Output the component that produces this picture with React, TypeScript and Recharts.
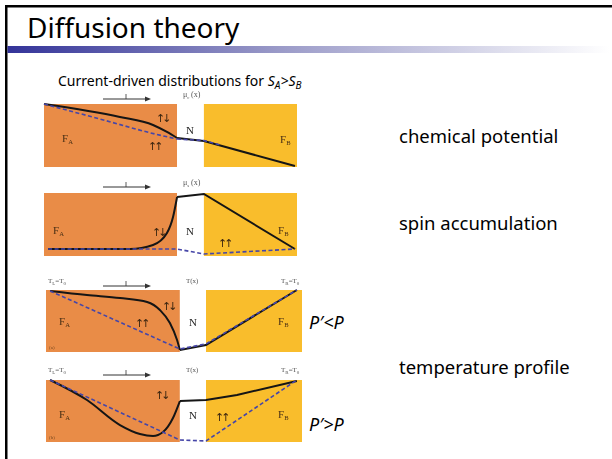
import React from 'react';
import { LineChart, Line, XAxis, YAxis, ReferenceArea } from 'recharts';

type Pt = { x: number; y: number };

// x runs 0..100 across each strip (F_A | N | F_B), y runs 0..100 bottom to top
const BOUNDS_MU = [0, 52.6, 63.2, 100];
const BOUNDS_T = [0, 52.3, 62.5, 100];

// chemical potential
const chemSolidA: Pt[] = [
  { x: 0, y: 100 }, { x: 30, y: 79.4 }, { x: 43.1, y: 66.7 }, { x: 48.6, y: 55.6 }, { x: 52.6, y: 46 },
];
const chemSolidRest: Pt[] = [{ x: 52.6, y: 46 }, { x: 63.2, y: 41.3 }, { x: 99.2, y: 1.6 }];
const chemDashedA: Pt[] = [{ x: 0, y: 100 }, { x: 22.1, y: 76.2 }, { x: 43.9, y: 52.4 }, { x: 52.6, y: 44.4 }];
const chemDashedRest: Pt[] = [{ x: 52.6, y: 44.4 }, { x: 63.2, y: 42 }, { x: 70, y: 34.6 }];

// spin accumulation
const spinSolidA: Pt[] = [
  { x: 1.6, y: 11.1 }, { x: 34, y: 11.1 }, { x: 43.1, y: 17.5 }, { x: 48.6, y: 36.5 }, { x: 51, y: 61.9 }, { x: 52.6, y: 93.7 },
];
const spinSolidRest: Pt[] = [{ x: 52.6, y: 93.7 }, { x: 63.2, y: 98.4 }, { x: 99.2, y: 11.1 }];
const spinDashed: Pt[] = [{ x: 1.6, y: 11.1 }, { x: 52.6, y: 11.1 }, { x: 63.2, y: 3.2 }, { x: 99.2, y: 11.1 }];

// temperature, P' < P
const tempLoSolidA: Pt[] = [
  { x: 1.6, y: 98.4 }, { x: 16, y: 91.9 }, { x: 28.9, y: 87.1 }, { x: 39.5, y: 80.6 }, { x: 44.5, y: 67.7 },
  { x: 48.4, y: 46.8 }, { x: 51.2, y: 19.4 }, { x: 52.3, y: 3.2 },
];
const tempLoSolidRest: Pt[] = [{ x: 52.3, y: 3.2 }, { x: 62.5, y: 11.3 }, { x: 98, y: 100 }];
const tempLoDashed: Pt[] = [{ x: 1.6, y: 98.4 }, { x: 52.3, y: 4.8 }, { x: 62.5, y: 13 }, { x: 98, y: 100 }];

// temperature, P' > P
const tempHiSolidA: Pt[] = [
  { x: 1.6, y: 100 }, { x: 16, y: 67.7 }, { x: 28.9, y: 27.4 }, { x: 36.7, y: 12.9 }, { x: 41.8, y: 9.7 },
  { x: 45.7, y: 16.1 }, { x: 49.6, y: 38.7 }, { x: 52.3, y: 66 },
];
const tempHiSolidRest: Pt[] = [{ x: 52.3, y: 66 }, { x: 62.5, y: 67.7 }, { x: 74.6, y: 75.8 }, { x: 98, y: 98.4 }];
const tempHiDashed: Pt[] = [{ x: 1.6, y: 100 }, { x: 52.3, y: 3.2 }, { x: 62.5, y: 1.6 }, { x: 98, y: 100 }];

const ORANGE = '#E98C47';
const YELLOW = '#F9BD2C';
const INK = '#151515';
const BLUE = '#4646a8';

type Curve = { data: Pt[]; dashed?: boolean; curved?: boolean };

function Strip({ x, y, w, h, bounds, curves }: { x: number; y: number; w: number; h: number; bounds: number[]; curves: Curve[] }) {
  const pad = 4;
  const ordered = [...curves.filter((c) => !c.dashed), ...curves.filter((c) => c.dashed)];
  return (
    <div style={{ position: 'absolute', left: x - pad, top: y - pad }}>
      <LineChart width={w + pad * 2} height={h + pad * 2} margin={{ top: pad, right: pad, bottom: pad, left: pad }}>
        <XAxis type="number" dataKey="x" domain={[0, 100]} hide />
        <YAxis type="number" domain={[0, 100]} hide />
        <ReferenceArea x1={bounds[0]} x2={bounds[1]} y1={0} y2={100} fill={ORANGE} fillOpacity={1} stroke="none" />
        <ReferenceArea x1={bounds[1]} x2={bounds[2]} y1={0} y2={100} fill="#ffffff" fillOpacity={1} stroke="none" />
        <ReferenceArea x1={bounds[2]} x2={bounds[3]} y1={0} y2={100} fill={YELLOW} fillOpacity={1} stroke="none" />
        {ordered.map((c, i) => (
          <Line
            key={i}
            data={c.data}
            dataKey="y"
            type={c.curved ? 'monotone' : 'linear'}
            stroke={c.dashed ? BLUE : INK}
            strokeWidth={c.dashed ? 1.6 : 2}
            strokeDasharray={c.dashed ? '4 2.5' : undefined}
            dot={false}
            activeDot={false}
            isAnimationActive={false}
          />
        ))}
      </LineChart>
    </div>
  );
}

const serif = 'Liberation Serif';

function Sub({ x, y, main, sub, size = 11, fill = '#4a3015' }: { x: number; y: number; main: string; sub: string; size?: number; fill?: string }) {
  return (
    <text x={x} y={y} fontFamily={serif} fontSize={size} fill={fill}>
      {main}
      <tspan fontSize={size * 0.6} dy={2}>{sub}</tspan>
    </text>
  );
}

function CurrentArrow({ y }: { y: number }) {
  return (
    <g stroke="#333" fill="#333">
      <line x1={103} y1={y} x2={147} y2={y} strokeWidth={1} />
      <polygon points={`${151},${y} ${145},${y - 2.5} ${145},${y + 2.5}`} stroke="none" />
      <line x1={126} y1={y - 5} x2={126} y2={y} strokeWidth={0.8} />
    </g>
  );
}

function Spins({ x, y, pair }: { x: number; y: number; pair: string }) {
  return (
    <text x={x} y={y} fontFamily="DejaVu Sans" fontSize={11} fill="#3a2510" letterSpacing={-3}>
      {pair}
    </text>
  );
}

function TempEnds({ y }: { y: number }) {
  return (
    <g fontFamily={serif} fontSize={7} fill="#555">
      <text x={48} y={y}>T<tspan fontSize={5} dy={1.5}>L</tspan><tspan dy={-1.5}>=T</tspan><tspan fontSize={5} dy={1.5}>0</tspan></text>
      <text x={186} y={y}>T(x)</text>
      <text x={281} y={y}>T<tspan fontSize={5} dy={1.5}>R</tspan><tspan dy={-1.5}>=T</tspan><tspan fontSize={5} dy={1.5}>0</tspan></text>
    </g>
  );
}

export default function App() {
  const sans = 'Noto Sans';
  return (
    <div style={{ position: 'absolute', left: 0, top: 0, width: 612, height: 459, background: '#fff', overflow: 'hidden' }}>
      <svg width={612} height={459} style={{ position: 'absolute', left: 0, top: 0 }}>
        <defs>
          <linearGradient id="bar" x1="0" x2="1" y1="0" y2="0">
            <stop offset="0" stopColor="#333399" />
            <stop offset="0.45" stopColor="#9a9ac8" />
            <stop offset="1" stopColor="#ffffff" />
          </linearGradient>
        </defs>
        <rect x={5} y={5} width={607} height={2.5} fill="#000" />
        <rect x={5} y={5} width={2.5} height={454} fill="#000" />
        <rect x={7.5} y={46} width={602} height={7} fill="url(#bar)" />
        <text x={27} y={38} fontFamily={sans} fontSize={28} fill="#000">Diffusion theory</text>
        <text x={58} y={86} fontFamily={sans} fontSize={14} fill="#000">
          Current-driven distributions for{' '}
          <tspan fontStyle="italic">S</tspan>
          <tspan fontStyle="italic" fontSize={10} dy={3}>A</tspan>
          <tspan fontStyle="italic" dy={-3}>&gt;S</tspan>
          <tspan fontStyle="italic" fontSize={10} dy={3}>B</tspan>
        </text>
        <g fontFamily={sans} fontSize={18.5} fill="#000">
          <text x={399} y={143}>chemical potential</text>
          <text x={399} y={230}>spin accumulation</text>
          <text x={399} y={374}>temperature profile</text>
        </g>
        <g fontFamily={sans} fontSize={18} fontStyle="italic" fill="#000">
          <text x={309} y={329}>P′&lt;P</text>
          <text x={309} y={431}>P′&gt;P</text>
        </g>
      </svg>

      <div style={{ position: 'absolute', left: 0, top: 0, width: 612, height: 459, filter: 'blur(0.35px)' }}>
        <Strip x={44} y={104} w={253} h={63} bounds={BOUNDS_MU} curves={[
          { data: chemSolidA, curved: true }, { data: chemSolidRest },
          { data: chemDashedA, dashed: true, curved: true }, { data: chemDashedRest, dashed: true },
        ]} />
        <Strip x={44} y={193} w={253} h={63} bounds={BOUNDS_MU} curves={[
          { data: spinSolidA, curved: true }, { data: spinSolidRest }, { data: spinDashed, dashed: true },
        ]} />
        <Strip x={46} y={290} w={256} h={62} bounds={BOUNDS_T} curves={[
          { data: tempLoSolidA, curved: true }, { data: tempLoSolidRest }, { data: tempLoDashed, dashed: true },
        ]} />
        <Strip x={46} y={380} w={256} h={62} bounds={BOUNDS_T} curves={[
          { data: tempHiSolidA, curved: true }, { data: tempHiSolidRest }, { data: tempHiDashed, dashed: true },
        ]} />

        <svg width={612} height={459} style={{ position: 'absolute', left: 0, top: 0, pointerEvents: 'none' }}>
          {/* chemical potential */}
          <CurrentArrow y={99} />
          <Sub x={183} y={97} main="μ" sub="c" size={8} fill="#555" />
          <text x={191} y={97} fontFamily={serif} fontSize={8} fill="#555">(x)</text>
          <Sub x={62} y={142} main="F" sub="A" />
          <text x={186} y={134} fontFamily={serif} fontSize={11} fill="#222">N</text>
          <Sub x={280} y={143} main="F" sub="B" />
          <Spins x={156} y={122} pair="↑↓" />
          <Spins x={148} y={150} pair="↑↑" />

          {/* spin accumulation */}
          <CurrentArrow y={187} />
          <Sub x={183} y={185} main="μ" sub="s" size={8} fill="#555" />
          <text x={191} y={185} fontFamily={serif} fontSize={8} fill="#555">(x)</text>
          <Sub x={53} y={234} main="F" sub="A" />
          <text x={186} y={235} fontFamily={serif} fontSize={11} fill="#222">N</text>
          <Sub x={278} y={234} main="F" sub="B" />
          <Spins x={152} y={236} pair="↑↓" />
          <Spins x={218} y={247} pair="↑↑" />

          {/* temperature, P' < P */}
          <TempEnds y={283} />
          <CurrentArrow y={286} />
          <Sub x={59} y={325} main="F" sub="A" />
          <text x={189} y={326} fontFamily={serif} fontSize={11} fill="#222">N</text>
          <Sub x={278} y={325} main="F" sub="B" />
          <Spins x={162} y={310} pair="↑↓" />
          <Spins x={135} y={327} pair="↑↑" />
          <text x={49} y={349} fontFamily={serif} fontSize={5} fill="#7a4a20">(a)</text>

          {/* temperature, P' > P */}
          <TempEnds y={372} />
          <CurrentArrow y={375} />
          <Sub x={59} y={418} main="F" sub="A" />
          <text x={189} y={419} fontFamily={serif} fontSize={11} fill="#222">N</text>
          <Sub x={278} y={418} main="F" sub="B" />
          <Spins x={155} y={399} pair="↑↓" />
          <Spins x={215} y={421} pair="↑↑" />
          <text x={49} y={439} fontFamily={serif} fontSize={5} fill="#7a4a20">(b)</text>
        </svg>
      </div>
    </div>
  );
}
